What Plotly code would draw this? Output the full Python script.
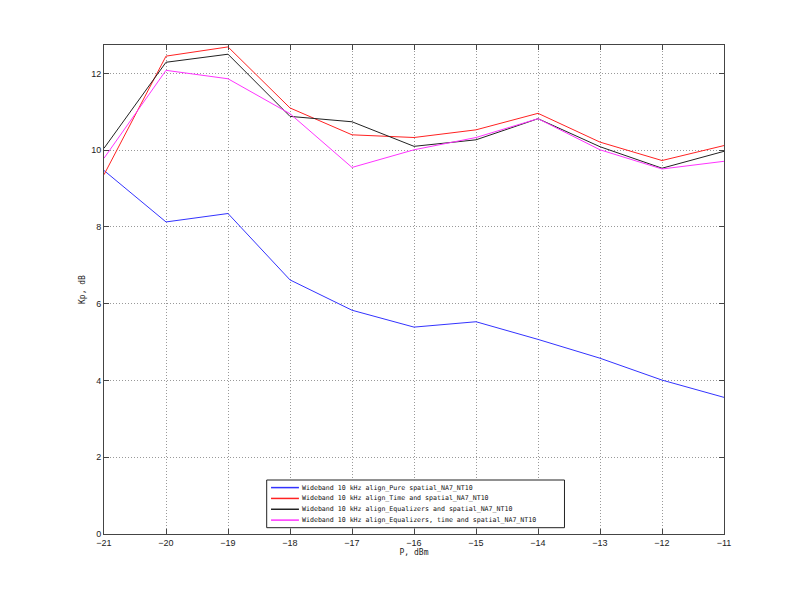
import plotly.graph_objects as go

# P, dBm
p_dbm = [-21, -20, -19, -18, -17, -16, -15, -14, -13, -12, -11]

# Kp, dB for each alignment variant
kp_pure_spatial = [9.47, 8.13, 8.35, 6.62, 5.83, 5.39, 5.53, 5.07, 4.58, 4.01, 3.56]
kp_time_spatial = [9.36, 12.45, 12.69, 11.10, 10.40, 10.33, 10.53, 10.96, 10.21, 9.73, 10.12]
kp_eq_spatial = [10.05, 12.29, 12.50, 10.88, 10.74, 10.10, 10.27, 10.82, 10.09, 9.53, 9.97]
kp_eq_time_spatial = [9.79, 12.08, 11.86, 10.95, 9.55, 10.01, 10.33, 10.82, 10.01, 9.51, 9.71]

names = [
    "Wideband 10 kHz align_Pure spatial_NA7_NT10",
    "Wideband 10 kHz align_Time and spatial_NA7_NT10",
    "Wideband 10 kHz align_Equalizers and spatial_NA7_NT10",
    "Wideband 10 kHz align_Equalizers, time and spatial_NA7_NT10",
]
colors = ["#3333ff", "#ff2222", "#222222", "#ff33ff"]
series = [kp_pure_spatial, kp_time_spatial, kp_eq_spatial, kp_eq_time_spatial]

x_ticks = list(range(-21, -10))
y_ticks = [0, 2, 4, 6, 8, 10, 12]

fig = go.Figure()
for name, col, ys in zip(names, colors, series):
    fig.add_trace(go.Scatter(x=p_dbm, y=ys, mode="lines", name=name,
                             line=dict(color=col, width=1), showlegend=False))

axis_common = dict(
    showline=True, mirror="ticks", linecolor="#444444", linewidth=1,
    ticks="inside", ticklen=5, tickcolor="#444444",
    showgrid=True, gridcolor="#999999", griddash="1px,2px", gridwidth=1,
    zeroline=False, tickfont=dict(family="Liberation Sans", size=9, color="#222222"),
)

fig.update_xaxes(range=[-21, -11], tickvals=x_ticks, title=dict(text="P, dBm", standoff=2,
                 font=dict(family="DejaVu Sans Mono", size=8, color="#222222")), **axis_common)
fig.update_yaxes(range=[0, 12.74], tickvals=y_ticks, title=dict(text="Kp, dB", standoff=4,
                 font=dict(family="DejaVu Sans Mono", size=8, color="#222222")), **axis_common)

# legend drawn by hand so rows stay as tight as in the original
lx0, lx1, ly0, ly1 = 0.2624, 0.7427, 0.0129, 0.1104
fig.add_shape(type="rect", xref="paper", yref="paper", x0=lx0, x1=lx1, y0=ly0, y1=ly1,
              line=dict(color="#222222", width=1), fillcolor="white", layer="above")
row_h = (ly1 - ly0) / 4.4
for i, (name, col) in enumerate(zip(names, colors)):
    yy = ly1 - row_h * (i + 0.7)
    fig.add_shape(type="line", xref="paper", yref="paper", x0=lx0 + 0.007, x1=lx0 + 0.052,
                  y0=yy, y1=yy, line=dict(color=col, width=1.5), layer="above")
    fig.add_annotation(x=lx0 + 0.053, y=yy, xref="paper", yref="paper", text=name,
                       showarrow=False, xanchor="left", yanchor="middle",
                       font=dict(family="DejaVu Sans Mono", size=6.6, color="#111111"))

# page body adds ~8px offset, so margins are trimmed on the left/top
fig.update_layout(
    width=799, height=600,
    margin=dict(l=96, r=83, t=37, b=74),
    paper_bgcolor="white", plot_bgcolor="white",
)

fig.write_html("out.html")
